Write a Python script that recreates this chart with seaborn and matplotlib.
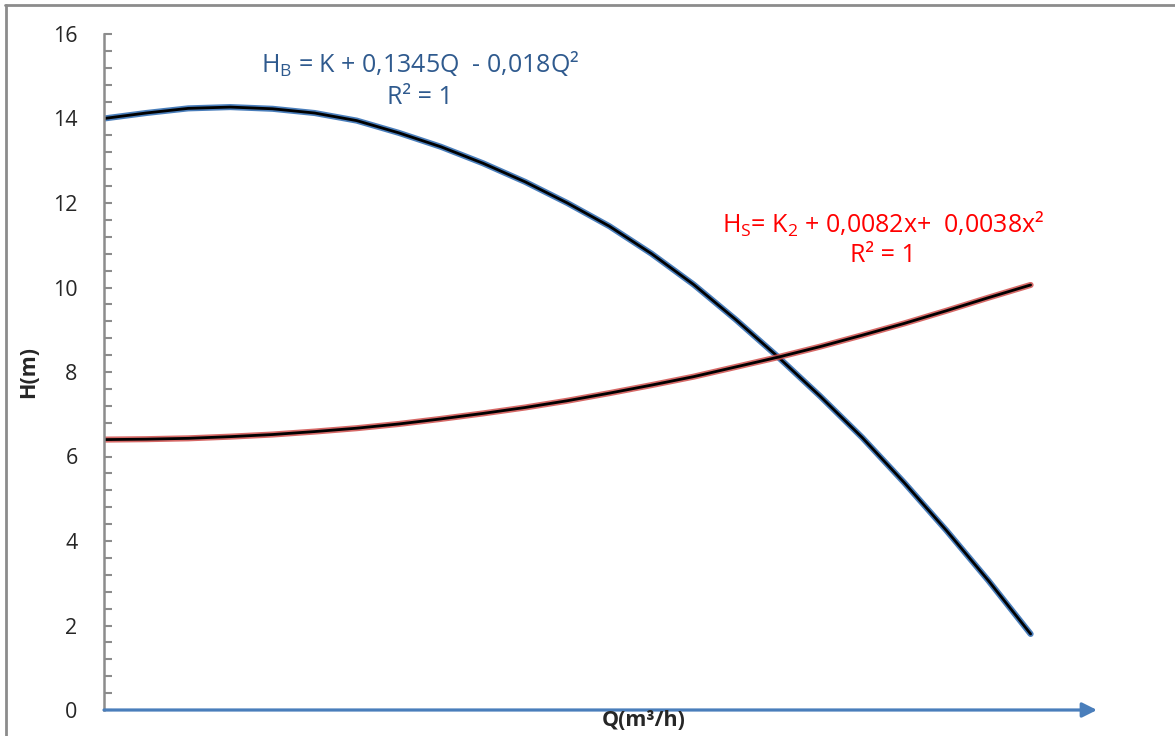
import numpy as np
import pandas as pd
import matplotlib
matplotlib.use('Agg')
import matplotlib.pyplot as plt
import seaborn as sns
from matplotlib.ticker import MultipleLocator

sns.set_style('white')
plt.rcParams['font.family'] = ['Open Sans', 'DejaVu Sans']
plt.rcParams['mathtext.fontset'] = 'custom'
plt.rcParams['mathtext.rm'] = 'Open Sans'

# donnees
debit = [0, 1.25, 2.5, 3.75, 5, 6.25, 7.5, 8.75, 10, 11.25, 12.5, 13.75,
         15, 16.25, 17.5, 18.75, 20, 21.25, 22.5, 23.75, 25, 26.25, 27.5]
h_pompe = [14.0, 14.13, 14.24, 14.27, 14.23, 14.13, 13.95, 13.66, 13.33, 12.94,
           12.5, 12.0, 11.45, 10.8, 10.07, 9.24, 8.36, 7.43, 6.45, 5.38, 4.25,
           3.06, 1.8]
h_reseau = [6.4, 6.41, 6.43, 6.47, 6.52, 6.59, 6.67, 6.77, 6.89, 7.02, 7.16,
            7.32, 7.5, 7.69, 7.89, 8.12, 8.35, 8.6, 8.87, 9.15, 9.45, 9.76, 10.06]

q_max = 29.47
bleu = '#4A7EBB'
rouge = '#D0504D'

df = pd.DataFrame({'Q': debit, 'Hb': h_pompe, 'Hs': h_reseau})

fig = plt.figure(figsize=(11.75, 7.36), dpi=100)
ax = fig.add_axes([104/1175, 26/736, 993/1175, 676/736])

# courbe pompe
sns.lineplot(data=df, x='Q', y='Hb', ax=ax, color=bleu, lw=4.4,
             solid_capstyle='round', solid_joinstyle='round')
sns.lineplot(data=df, x='Q', y='Hb', ax=ax, color='black', lw=2.0,
             solid_capstyle='round', solid_joinstyle='round')
# courbe reseau
sns.lineplot(data=df, x='Q', y='Hs', ax=ax, color=rouge, lw=4.4, alpha=0.85,
             solid_capstyle='round', solid_joinstyle='round')
sns.lineplot(data=df, x='Q', y='Hs', ax=ax, color='black', lw=2.0,
             solid_capstyle='round', solid_joinstyle='round')

ax.set_xlim(0, q_max)
ax.set_ylim(0, 16)
ax.set_xticks([])
ax.yaxis.set_major_locator(MultipleLocator(2))
ax.yaxis.set_minor_locator(MultipleLocator(0.4))
ax.tick_params(axis='y', which='both', left=True, direction='in', length=6,
               width=1.5, color='#8c8c8c', labelsize=15.5, pad=19)
for s in ['top', 'right', 'bottom']:
    ax.spines[s].set_visible(False)
ax.spines['left'].set_color('#8c8c8c')
ax.spines['left'].set_linewidth(1.8)

# axe Q avec fleche
ax.annotate('', xy=(q_max, 0), xytext=(0, 0), xycoords='data',
            arrowprops=dict(arrowstyle='-|>', color=bleu, lw=2.3,
                            mutation_scale=22, shrinkA=0, shrinkB=0),
            annotation_clip=False)

ax.set_xlabel('')
ax.set_ylabel('')
fig.text(644/1175, 1 - 721/736, 'Q(m³/h)', ha='center', va='center',
         fontsize=15.5, fontweight='bold')
fig.text(29/1175, 1 - 372/736, 'H(m)', ha='center', va='center',
         fontsize=15.5, fontweight='bold', rotation=90)

# equations
fig.text(420/1175, 1 - 64/736, r'H$\mathregular{_B}$ = K + 0,1345Q  - 0,018Q²',
         ha='center', va='center', fontsize=18, color='#2F5A8E')
fig.text(420/1175, 1 - 98/736, 'R² = 1', ha='center', va='center',
         fontsize=18, color='#2F5A8E')
fig.text(883/1175, 1 - 224/736, r'H$\mathregular{_S}$= K$\mathregular{_2}$ + 0,0082x+  0,0038x²',
         ha='center', va='center', fontsize=18, color='#FF0000')
fig.text(883/1175, 1 - 256/736, 'R² = 1', ha='center', va='center',
         fontsize=18, color='#FF0000')

# cadre
fig.add_artist(plt.Line2D([5/1175, 1], [1 - 4.5/736, 1 - 4.5/736],
                          transform=fig.transFigure, color='#8c8c8c', lw=2))
fig.add_artist(plt.Line2D([5.5/1175, 5.5/1175], [0, 1 - 4.5/736],
                          transform=fig.transFigure, color='#8c8c8c', lw=2))

fig.savefig('out.png', dpi=100)
